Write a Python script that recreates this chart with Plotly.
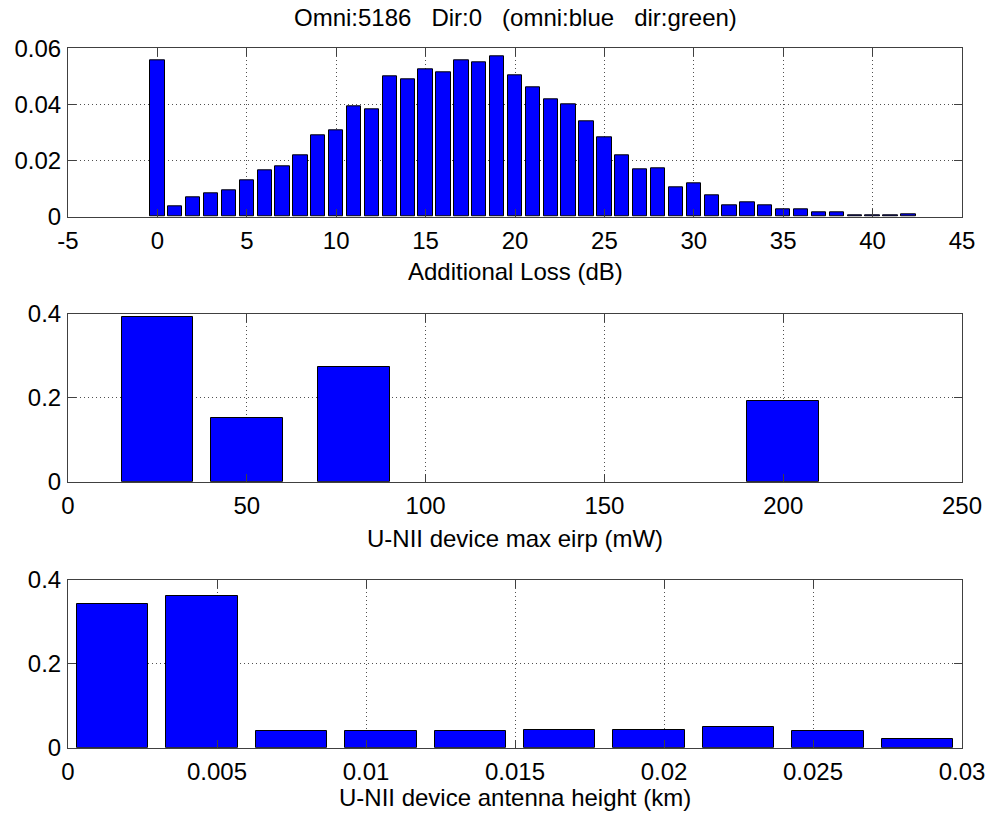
import plotly.graph_objects as go

# ---- data ----
loss_db = list(range(0, 43))
loss_frac = [0.0559, 0.0038, 0.0068, 0.0082, 0.0094, 0.0131, 0.0165, 0.0178, 0.0219, 0.0291,
             0.0308, 0.0395, 0.0383, 0.0499, 0.0488, 0.0525, 0.0514, 0.0559, 0.0550, 0.0570,
             0.0503, 0.0462, 0.0420, 0.0402, 0.0340, 0.0282, 0.0219, 0.0168, 0.0172, 0.0105,
             0.0118, 0.0076, 0.0041, 0.0051, 0.0041, 0.0026, 0.0025, 0.0014, 0.0014, 0.0005,
             0.0005, 0.0005, 0.0008]

eirp_mw = [25, 50, 80, 200]
eirp_frac = [0.392, 0.151, 0.274, 0.1925]

height_km = [0.0015, 0.0045, 0.0075, 0.0105, 0.0135, 0.0165, 0.0195, 0.0225, 0.0255, 0.0285]
height_frac = [0.342, 0.361, 0.0398, 0.0398, 0.0398, 0.0421, 0.0421, 0.0485, 0.0398, 0.0199]

title_parts = ["Omni:5186", "Dir:0", "(omni:blue", "dir:green)"]
xlabels = ["Additional Loss (dB)", "U-NII device max eirp (mW)", "U-NII device antenna height (km)"]

x1_ticks = [-5, 0, 5, 10, 15, 20, 25, 30, 35, 40, 45]
x1_text = ["-5", "0", "5", "10", "15", "20", "25", "30", "35", "40", "45"]
y1_ticks = [0, 0.02, 0.04, 0.06]
y1_text = ["0", "0.02", "0.04", "0.06"]
x2_ticks = [0, 50, 100, 150, 200, 250]
x2_text = ["0", "50", "100", "150", "200", "250"]
y_ticks_23 = [0, 0.2, 0.4]
y_text_23 = ["0", "0.2", "0.4"]
x3_ticks = [0, 0.005, 0.01, 0.015, 0.02, 0.025, 0.03]
x3_text = ["0", "0.005", "0.01", "0.015", "0.02", "0.025", "0.03"]

FONT = "Liberation Sans, Arial, Helvetica, sans-serif"
FS = 24
BAR_COLOR = "#0000FF"

fig = go.Figure()
fig.add_trace(go.Bar(x=loss_db, y=loss_frac, width=0.8, xaxis="x", yaxis="y",
                     marker=dict(color=BAR_COLOR, line=dict(color="black", width=1))))
fig.add_trace(go.Bar(x=eirp_mw, y=eirp_frac, width=20, xaxis="x2", yaxis="y2",
                     marker=dict(color=BAR_COLOR, line=dict(color="black", width=1))))
fig.add_trace(go.Bar(x=height_km, y=height_frac, width=0.0024, xaxis="x3", yaxis="y3",
                     marker=dict(color=BAR_COLOR, line=dict(color="black", width=1))))

def ax(rng, tv, tt, anchor, domain=None, is_x=True):
    d = dict(range=rng, tickvals=tv, ticktext=tt, anchor=anchor,
             showline=True, linecolor="#404040", linewidth=1, mirror="ticks",
             ticks="inside", ticklen=8, tickcolor="#404040", tickwidth=1,
             showgrid=True, gridcolor="#505050", griddash="1px,3px", gridwidth=1,
             zeroline=False, fixedrange=True, automargin=False,
             tickfont=dict(family=FONT, size=FS, color="black"))
    if domain is not None:
        d["domain"] = domain
    d["ticklabelstandoff"] = 2 if is_x else 1
    return d

H = 700.0
def dom(top_px, bot_px):
    return [(748 - bot_px) / H, (748 - top_px) / H]

fig.update_layout(
    width=990, height=816, autosize=False,
    margin=dict(l=68, r=28, t=48, b=68, autoexpand=False),
    paper_bgcolor="white", plot_bgcolor="white",
    showlegend=False, bargap=0,
    font=dict(family=FONT, size=FS, color="black"),
    xaxis=ax([-5, 45], x1_ticks, x1_text, "y", [0, 1]),
    yaxis=ax([0, 0.06], y1_ticks, y1_text, "x", dom(48.3, 216.7), is_x=False),
    xaxis2=ax([0, 250], x2_ticks, x2_text, "y2", [0, 1]),
    yaxis2=ax([0, 0.4], y_ticks_23, y_text_23, "x2", dom(314, 481.7), is_x=False),
    xaxis3=ax([0, 0.03], x3_ticks, x3_text, "y3", [0, 1]),
    yaxis3=ax([0, 0.4], y_ticks_23, y_text_23, "x3", dom(580, 747.7), is_x=False),
)

def py(px):
    return (748 - px) / H

SEP = "\u00a0\u00a0\u00a0"
annots = [
    dict(text=SEP.join(title_parts), x=0.5, y=py(18), xref="paper", yref="paper",
         showarrow=False, xanchor="center", yanchor="middle",
         font=dict(family=FONT, size=FS, color="black")),
    dict(text=xlabels[0], x=0.5, y=py(271), xref="paper", yref="paper",
         showarrow=False, xanchor="center", yanchor="middle",
         font=dict(family=FONT, size=FS, color="black")),
    dict(text=xlabels[1], x=0.5, y=py(538), xref="paper", yref="paper",
         showarrow=False, xanchor="center", yanchor="middle",
         font=dict(family=FONT, size=FS, color="black")),
    dict(text=xlabels[2], x=0.5, y=py(797), xref="paper", yref="paper",
         showarrow=False, xanchor="center", yanchor="middle",
         font=dict(family=FONT, size=FS, color="black")),
]
fig.update_layout(annotations=annots)

fig.write_html("out.html", config={"displayModeBar": False},
               post_script="document.body.style.margin='0';document.body.style.overflow='hidden';")
